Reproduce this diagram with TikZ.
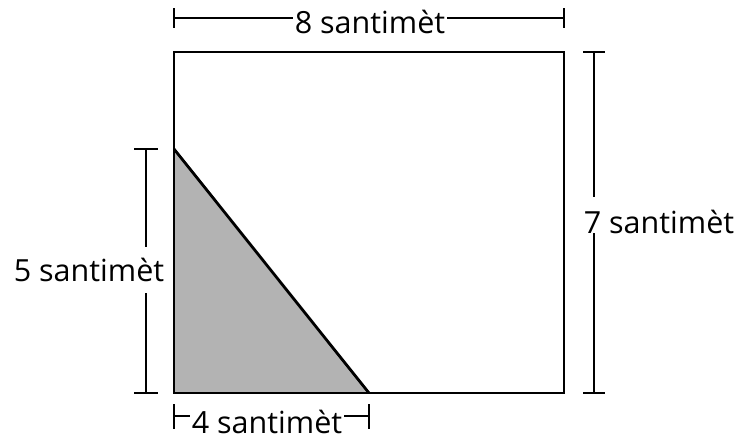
\documentclass[tikz,border=0pt]{standalone}
\usepackage{fontspec}
\setmainfont{Open Sans}
\begin{document}
\begin{tikzpicture}[x=1pt,y=-1pt,
  shape line/.style={line width=2.8pt, line join=miter},
  dim/.style={line width=2.3pt},
  lbl/.style={font=\fontsize{30.5}{32}\selectfont, inner sep=2pt, anchor=base}]
\useasboundingbox (0,0) rectangle (741,439);
% shapes
\coordinate (A) at (174,52);
\coordinate (B) at (564,52);
\coordinate (C) at (564,393);
\coordinate (D) at (174,393);
\coordinate (T) at (174,149);
\coordinate (E) at (369,393);
\fill[fill={rgb,255:red,179;green,179;blue,179}] (T) -- (D) -- (E) -- cycle;
\draw[shape line] (A) -- (B) -- (C) -- (D) -- cycle;
\draw[shape line] (T) -- (E);
% top dimension
\node[lbl] (top) at (370,33) {8 santimèt};
\coordinate (t1) at (174,18); \coordinate (t2) at (564,18);
\draw[dim] (t1) -- (top.west |- t1) (top.east |- t2) -- (t2);
\draw[dim] (174,8) -- (174,28) (564,8) -- (564,28);
% right dimension
\node[lbl] (right) at (659,233) {7 santimèt};
\coordinate (r1) at (594,52); \coordinate (r2) at (594,393);
\draw[dim] (r1) -- (594,197) (594,233) -- (r2);
\draw[dim] (583,52) -- (605,52) (583,393) -- (605,393);
% left dimension
\node[lbl] (left) at (89,281) {5 santimèt};
\coordinate (l1) at (146,149); \coordinate (l2) at (146,393);
\draw[dim] (l1) -- (146,247) (146,293) -- (l2);
\draw[dim] (134,149) -- (158,149) (134,393) -- (158,393);
% bottom dimension
\node[lbl] (bot) at (267,433) {4 santimèt};
\coordinate (b1) at (174,416); \coordinate (b2) at (369,416);
\draw[dim] (b1) -- (bot.west |- b1) (bot.east |- b2) -- (b2);
\draw[dim] (174,404) -- (174,429) (369,404) -- (369,429);
\end{tikzpicture}
\end{document}
